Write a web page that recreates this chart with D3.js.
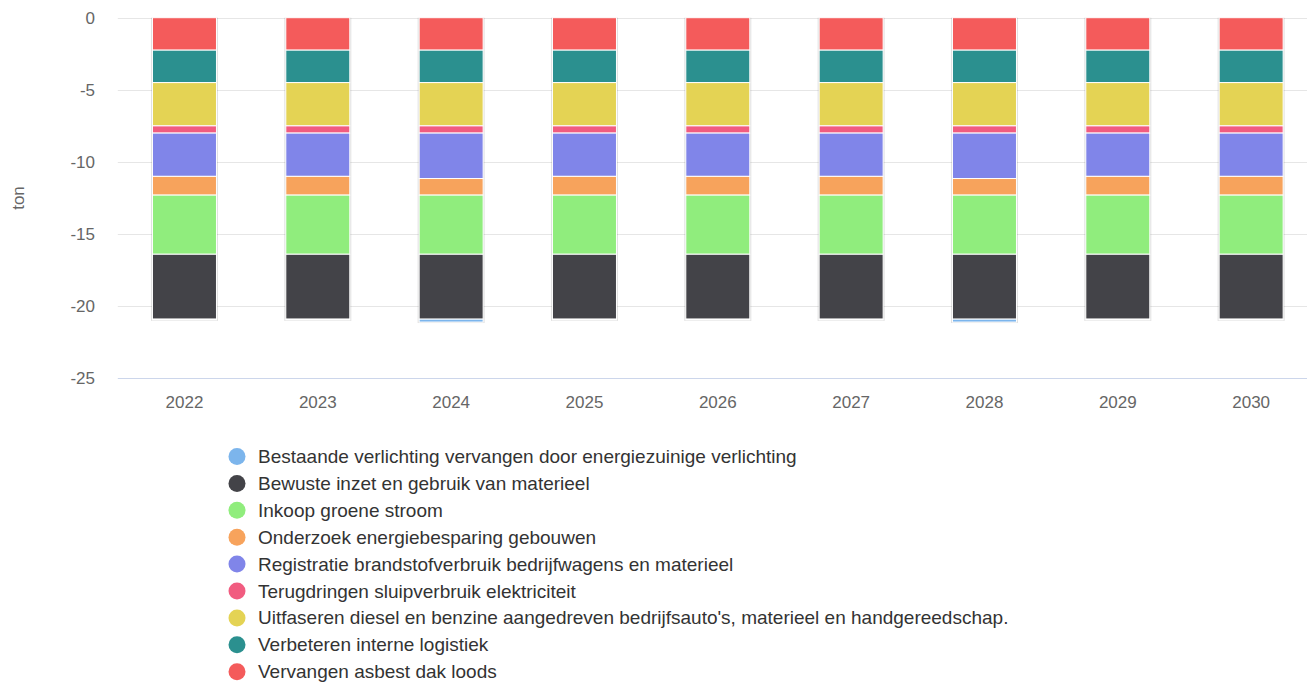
<!DOCTYPE html>
<html lang="nl">
<head>
<meta charset="UTF-8">
<title>Maatregelen</title>
<script src="https://d3js.org/d3.v7.min.js"></script>
<style>
body { margin: 0; background: #fff; overflow: hidden; }
svg text { font-family: "Liberation Sans", Arial, sans-serif; }
</style>
</head>
<body>
<div id="chart"></div>
<script>
// jaren op de x-as
const years = ["2022", "2023", "2024", "2025", "2026", "2027", "2028", "2029", "2030"]

// reeksen, in legendavolgorde
const seriesNames = [
    "Bestaande verlichting vervangen door energiezuinige verlichting",
    "Bewuste inzet en gebruik van materieel",
    "Inkoop groene stroom",
    "Onderzoek energiebesparing gebouwen",
    "Registratie brandstofverbruik bedrijfwagens en materieel",
    "Terugdringen sluipverbruik elektriciteit",
    "Uitfaseren diesel en benzine aangedreven bedrijfsauto's, materieel en handgereedschap.",
    "Verbeteren interne logistiek",
    "Vervangen asbest dak loods"
]
const seriesColors = ["#7cb5ec", "#434348", "#90ed7d", "#f7a35c", "#8085e9", "#f15c80", "#e4d354", "#2b908f", "#f45b5b"]

// waarden per reeks (ton), per jaar
const verlichting = [-0.05, -0.05, -0.2, -0.05, -0.05, -0.05, -0.2, -0.05, -0.05]
const materieel   = [-4.5, -4.5, -4.5, -4.5, -4.5, -4.5, -4.5, -4.5, -4.5]
const groeneStroom = [-4.1, -4.1, -4.1, -4.1, -4.1, -4.1, -4.1, -4.1, -4.1]
const gebouwen    = [-1.3, -1.3, -1.15, -1.3, -1.3, -1.3, -1.15, -1.3, -1.3]
const registratie = [-3.0, -3.0, -3.15, -3.0, -3.0, -3.0, -3.15, -3.0, -3.0]
const sluipverbruik = [-0.5, -0.5, -0.5, -0.5, -0.5, -0.5, -0.5, -0.5, -0.5]
const uitfaseren  = [-3.0, -3.0, -3.0, -3.0, -3.0, -3.0, -3.0, -3.0, -3.0]
const logistiek   = [-2.25, -2.25, -2.25, -2.25, -2.25, -2.25, -2.25, -2.25, -2.25]
const asbest      = [-2.25, -2.25, -2.25, -2.25, -2.25, -2.25, -2.25, -2.25, -2.25]

const seriesValues = [verlichting, materieel, groeneStroom, gebouwen, registratie, sluipverbruik, uitfaseren, logistiek, asbest]
const yTicks = [0, -5, -10, -15, -20, -25]

const width = 1307
const height = 682
// het plotvlak loopt iets voorbij de rechterrand
const plot = {left: 117.8, right: 1317.8, top: 17.7, bottom: 378.3}

const svg = d3.select('#chart')
    .append('svg')
    .attr('width', width)
    .attr('height', height)

const x = d3.scaleBand()
    .domain(years)
    .range([plot.left, plot.right])
    .paddingInner(0.52)
    .paddingOuter(0.26)

const y = d3.scaleLinear()
    .domain([0, -25])
    .range([plot.top, plot.bottom])

// rasterlijnen
svg.append('g')
    .selectAll('line')
    .data(yTicks.slice(0, -1))
    .enter()
    .append('line')
    .attr('x1', plot.left)
    .attr('x2', width)
    .attr('y1', d => Math.round(y(d)) + 0.5)
    .attr('y2', d => Math.round(y(d)) + 0.5)
    .attr('stroke', '#e6e6e6')

// y-as labels
svg.append('g')
    .selectAll('text')
    .data(yTicks)
    .enter()
    .append('text')
    .attr('x', 95)
    .attr('y', d => y(d) + 6)
    .attr('text-anchor', 'end')
    .attr('fill', '#666666')
    .style('font-size', '17px')
    .text(d => d)

svg.append('text')
    .attr('transform', 'translate(24,' + y(-12.5) + ') rotate(-90)')
    .attr('text-anchor', 'middle')
    .attr('fill', '#666666')
    .style('font-size', '17px')
    .text('ton')

// stapels: laatste reeks het dichtst bij nul
const stacked = []
years.forEach(function(year, i) {
    let base = 0
    for (let s = seriesValues.length - 1; s >= 0; --s) {
        const v = seriesValues[s][i]
        stacked.push({year: year, series: s, y0: base, y1: base + v})
        base += v
    }
})

// schaduw achter elke kolom
const totals = years.map((year, i) => ({year: year, total: d3.sum(seriesValues, s => s[i])}))
svg.append('g')
    .selectAll('rect')
    .data(totals)
    .enter()
    .append('rect')
    .attr('x', d => x(d.year) - 1.5)
    .attr('y', y(0))
    .attr('width', x.bandwidth() + 3)
    .attr('height', d => y(d.total) - y(0) + 1)
    .attr('fill', '#000')
    .attr('opacity', 0.12)

svg.append('g')
    .selectAll('rect')
    .data(stacked)
    .enter()
    .append('rect')
    .attr('x', d => x(d.year))
    .attr('y', d => y(d.y0))
    .attr('width', x.bandwidth())
    .attr('height', d => y(d.y1) - y(d.y0))
    .attr('fill', d => seriesColors[d.series])
    .attr('stroke', '#ffffff')
    .attr('stroke-width', 1)

// x-as
svg.append('line')
    .attr('x1', plot.left)
    .attr('x2', width)
    .attr('y1', Math.round(plot.bottom) + 0.5)
    .attr('y2', Math.round(plot.bottom) + 0.5)
    .attr('stroke', '#ccd6eb')

svg.append('g')
    .selectAll('text')
    .data(years)
    .enter()
    .append('text')
    .attr('x', d => x(d) + x.bandwidth() / 2)
    .attr('y', 408)
    .attr('text-anchor', 'middle')
    .attr('fill', '#666666')
    .style('font-size', '17px')
    .text(d => d)

// legenda
const legend = svg.append('g')
    .selectAll('g')
    .data(seriesNames)
    .enter()
    .append('g')
    .attr('transform', (d, i) => 'translate(237,' + (456.5 + i * 26.9) + ')')

legend.append('circle')
    .attr('r', 8.5)
    .attr('fill', (d, i) => seriesColors[i])

legend.append('text')
    .attr('x', 21)
    .attr('y', 6.5)
    .attr('fill', '#333333')
    .style('font-size', '19px')
    .text(d => d)
</script>
</body>
</html>
